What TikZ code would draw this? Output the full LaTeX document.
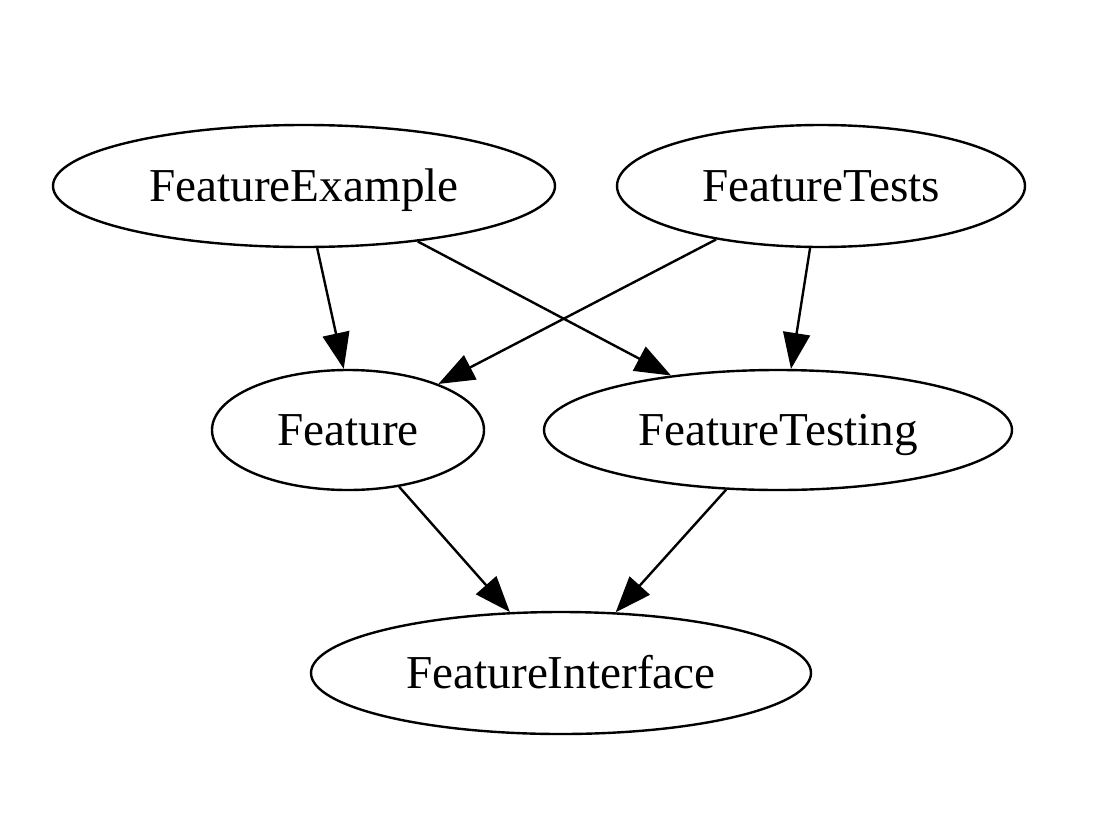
\documentclass[tikz,border=0pt]{standalone}
\usepackage{fontspec}
\setmainfont{Liberation Serif}
\usetikzlibrary{shapes.geometric,arrows.meta}
\begin{document}
\begin{tikzpicture}[x=1pt,y=-1pt,
  every node/.style={ellipse,draw,line width=2.4pt,inner sep=0pt,text height=31pt,text depth=0pt,font=\fontsize{47.2}{50}\selectfont},
  edge/.style={line width=2.4pt,-{Triangle[length=36pt,width=27pt]}}]
\useasboundingbox (0,0) rectangle (1102,838);
\node[minimum width=502pt,minimum height=122pt] (fe) at (304,186) {FeatureExample};
\node[minimum width=408pt,minimum height=122pt] (ft) at (821,186) {FeatureTests};
\node[minimum width=272pt,minimum height=120pt] (f) at (348,430) {Feature};
\node[minimum width=468pt,minimum height=120pt] (fg) at (778,430) {FeatureTesting};
\node[minimum width=500pt,minimum height=122pt] (fi) at (561,673) {FeatureInterface};
\draw[edge] (fe.-78.9) -- (f.94.8);
\draw[edge] (fe.-26.4) -- (fg.153);
\draw[edge] (ft.207.7) -- (f.27.8);
\draw[edge] (ft.-100.2) -- (fg.78.7);
\draw[edge] (f.-48.1) -- (fi.130.2);
\draw[edge] (fg.-131) -- (fi.48);
\end{tikzpicture}
\end{document}
